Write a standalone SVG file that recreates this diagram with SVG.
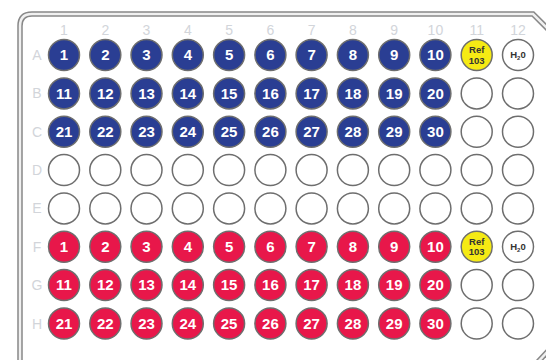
<svg xmlns="http://www.w3.org/2000/svg" width="546" height="360" viewBox="0 0 546 360">
<style>
.w{stroke:#6e6e6e;stroke-width:1.5}
.b{fill:#2a3e93}
.r{fill:#e8174a}
.e{fill:#ffffff}
.y{fill:#f5ea14}
.n{font-family:"Liberation Sans",Arial,sans-serif;font-size:15px;font-weight:bold;fill:#ffffff;text-anchor:middle}
.s{font-family:"Liberation Sans",Arial,sans-serif;font-size:9.5px;font-weight:bold;fill:#333333;text-anchor:middle}
.lab{font-family:"Liberation Sans",Arial,sans-serif;font-size:14px;fill:#d2d5da;text-anchor:middle}
.o1{fill:none;stroke:#888888;stroke-width:5.5}
.o2{fill:none;stroke:#f0f0f0;stroke-width:2.5}
</style>
<rect width="546" height="360" fill="#ffffff"/>
<g id="plate">
<path class="o1" d="M20,364 V26 Q20,14 32,14 H533 L549,30"/>
<path class="o2" d="M20,364 V26 Q20,14 32,14 H533 L549,30"/>
<path class="o1" d="M536,364 L550,349"/>
<path class="o2" d="M536,364 L550,349"/>
</g>
<g id="column-labels">
<text class="lab" x="64" y="35">1</text><text class="lab" x="105.3" y="35">2</text><text class="lab" x="146.5" y="35">3</text><text class="lab" x="187.8" y="35">4</text><text class="lab" x="229.1" y="35">5</text><text class="lab" x="270.4" y="35">6</text><text class="lab" x="311.6" y="35">7</text><text class="lab" x="352.9" y="35">8</text><text class="lab" x="394.2" y="35">9</text><text class="lab" x="435.4" y="35">10</text><text class="lab" x="476.7" y="35">11</text><text class="lab" x="518" y="35">12</text>
</g>
<g id="row-labels">
<text class="lab" x="37" y="60">A</text><text class="lab" x="37" y="98.4">B</text><text class="lab" x="37" y="136.7">C</text><text class="lab" x="37" y="175.1">D</text><text class="lab" x="37" y="213.4">E</text><text class="lab" x="37" y="251.8">F</text><text class="lab" x="37" y="290.1">G</text><text class="lab" x="37" y="328.5">H</text>
</g>
<!-- Row A -->
<g id="A1"><circle class="w b" cx="64" cy="55" r="15.5"/><text class="n" x="64" y="60.3">1</text></g>
<g id="A2"><circle class="w b" cx="105.3" cy="55" r="15.5"/><text class="n" x="105.3" y="60.3">2</text></g>
<g id="A3"><circle class="w b" cx="146.5" cy="55" r="15.5"/><text class="n" x="146.5" y="60.3">3</text></g>
<g id="A4"><circle class="w b" cx="187.8" cy="55" r="15.5"/><text class="n" x="187.8" y="60.3">4</text></g>
<g id="A5"><circle class="w b" cx="229.1" cy="55" r="15.5"/><text class="n" x="229.1" y="60.3">5</text></g>
<g id="A6"><circle class="w b" cx="270.4" cy="55" r="15.5"/><text class="n" x="270.4" y="60.3">6</text></g>
<g id="A7"><circle class="w b" cx="311.6" cy="55" r="15.5"/><text class="n" x="311.6" y="60.3">7</text></g>
<g id="A8"><circle class="w b" cx="352.9" cy="55" r="15.5"/><text class="n" x="352.9" y="60.3">8</text></g>
<g id="A9"><circle class="w b" cx="394.2" cy="55" r="15.5"/><text class="n" x="394.2" y="60.3">9</text></g>
<g id="A10"><circle class="w b" cx="435.4" cy="55" r="15.5"/><text class="n" x="435.4" y="60.3">10</text></g>
<g id="A11"><circle class="w y" cx="476.7" cy="55" r="15.5"/><text class="s" x="476.7" y="53">Ref</text><text class="s" x="476.7" y="63.5">103</text></g>
<g id="A12"><circle class="w e" cx="518" cy="55" r="15.5"/><text class="s" x="518" y="58"><tspan>H</tspan><tspan font-size="6" dy="2">2</tspan><tspan dy="-2">0</tspan></text></g>
<!-- Row B -->
<g id="B1"><circle class="w b" cx="64" cy="93.4" r="15.5"/><text class="n" x="64" y="98.7">11</text></g>
<g id="B2"><circle class="w b" cx="105.3" cy="93.4" r="15.5"/><text class="n" x="105.3" y="98.7">12</text></g>
<g id="B3"><circle class="w b" cx="146.5" cy="93.4" r="15.5"/><text class="n" x="146.5" y="98.7">13</text></g>
<g id="B4"><circle class="w b" cx="187.8" cy="93.4" r="15.5"/><text class="n" x="187.8" y="98.7">14</text></g>
<g id="B5"><circle class="w b" cx="229.1" cy="93.4" r="15.5"/><text class="n" x="229.1" y="98.7">15</text></g>
<g id="B6"><circle class="w b" cx="270.4" cy="93.4" r="15.5"/><text class="n" x="270.4" y="98.7">16</text></g>
<g id="B7"><circle class="w b" cx="311.6" cy="93.4" r="15.5"/><text class="n" x="311.6" y="98.7">17</text></g>
<g id="B8"><circle class="w b" cx="352.9" cy="93.4" r="15.5"/><text class="n" x="352.9" y="98.7">18</text></g>
<g id="B9"><circle class="w b" cx="394.2" cy="93.4" r="15.5"/><text class="n" x="394.2" y="98.7">19</text></g>
<g id="B10"><circle class="w b" cx="435.4" cy="93.4" r="15.5"/><text class="n" x="435.4" y="98.7">20</text></g>
<g id="B11"><circle class="w e" cx="476.7" cy="93.4" r="15.5"/></g>
<g id="B12"><circle class="w e" cx="518" cy="93.4" r="15.5"/></g>
<!-- Row C -->
<g id="C1"><circle class="w b" cx="64" cy="131.7" r="15.5"/><text class="n" x="64" y="137">21</text></g>
<g id="C2"><circle class="w b" cx="105.3" cy="131.7" r="15.5"/><text class="n" x="105.3" y="137">22</text></g>
<g id="C3"><circle class="w b" cx="146.5" cy="131.7" r="15.5"/><text class="n" x="146.5" y="137">23</text></g>
<g id="C4"><circle class="w b" cx="187.8" cy="131.7" r="15.5"/><text class="n" x="187.8" y="137">24</text></g>
<g id="C5"><circle class="w b" cx="229.1" cy="131.7" r="15.5"/><text class="n" x="229.1" y="137">25</text></g>
<g id="C6"><circle class="w b" cx="270.4" cy="131.7" r="15.5"/><text class="n" x="270.4" y="137">26</text></g>
<g id="C7"><circle class="w b" cx="311.6" cy="131.7" r="15.5"/><text class="n" x="311.6" y="137">27</text></g>
<g id="C8"><circle class="w b" cx="352.9" cy="131.7" r="15.5"/><text class="n" x="352.9" y="137">28</text></g>
<g id="C9"><circle class="w b" cx="394.2" cy="131.7" r="15.5"/><text class="n" x="394.2" y="137">29</text></g>
<g id="C10"><circle class="w b" cx="435.4" cy="131.7" r="15.5"/><text class="n" x="435.4" y="137">30</text></g>
<g id="C11"><circle class="w e" cx="476.7" cy="131.7" r="15.5"/></g>
<g id="C12"><circle class="w e" cx="518" cy="131.7" r="15.5"/></g>
<!-- Row D -->
<g id="D1"><circle class="w e" cx="64" cy="170.1" r="15.5"/></g>
<g id="D2"><circle class="w e" cx="105.3" cy="170.1" r="15.5"/></g>
<g id="D3"><circle class="w e" cx="146.5" cy="170.1" r="15.5"/></g>
<g id="D4"><circle class="w e" cx="187.8" cy="170.1" r="15.5"/></g>
<g id="D5"><circle class="w e" cx="229.1" cy="170.1" r="15.5"/></g>
<g id="D6"><circle class="w e" cx="270.4" cy="170.1" r="15.5"/></g>
<g id="D7"><circle class="w e" cx="311.6" cy="170.1" r="15.5"/></g>
<g id="D8"><circle class="w e" cx="352.9" cy="170.1" r="15.5"/></g>
<g id="D9"><circle class="w e" cx="394.2" cy="170.1" r="15.5"/></g>
<g id="D10"><circle class="w e" cx="435.4" cy="170.1" r="15.5"/></g>
<g id="D11"><circle class="w e" cx="476.7" cy="170.1" r="15.5"/></g>
<g id="D12"><circle class="w e" cx="518" cy="170.1" r="15.5"/></g>
<!-- Row E -->
<g id="E1"><circle class="w e" cx="64" cy="208.4" r="15.5"/></g>
<g id="E2"><circle class="w e" cx="105.3" cy="208.4" r="15.5"/></g>
<g id="E3"><circle class="w e" cx="146.5" cy="208.4" r="15.5"/></g>
<g id="E4"><circle class="w e" cx="187.8" cy="208.4" r="15.5"/></g>
<g id="E5"><circle class="w e" cx="229.1" cy="208.4" r="15.5"/></g>
<g id="E6"><circle class="w e" cx="270.4" cy="208.4" r="15.5"/></g>
<g id="E7"><circle class="w e" cx="311.6" cy="208.4" r="15.5"/></g>
<g id="E8"><circle class="w e" cx="352.9" cy="208.4" r="15.5"/></g>
<g id="E9"><circle class="w e" cx="394.2" cy="208.4" r="15.5"/></g>
<g id="E10"><circle class="w e" cx="435.4" cy="208.4" r="15.5"/></g>
<g id="E11"><circle class="w e" cx="476.7" cy="208.4" r="15.5"/></g>
<g id="E12"><circle class="w e" cx="518" cy="208.4" r="15.5"/></g>
<!-- Row F -->
<g id="F1"><circle class="w r" cx="64" cy="246.8" r="15.5"/><text class="n" x="64" y="252.1">1</text></g>
<g id="F2"><circle class="w r" cx="105.3" cy="246.8" r="15.5"/><text class="n" x="105.3" y="252.1">2</text></g>
<g id="F3"><circle class="w r" cx="146.5" cy="246.8" r="15.5"/><text class="n" x="146.5" y="252.1">3</text></g>
<g id="F4"><circle class="w r" cx="187.8" cy="246.8" r="15.5"/><text class="n" x="187.8" y="252.1">4</text></g>
<g id="F5"><circle class="w r" cx="229.1" cy="246.8" r="15.5"/><text class="n" x="229.1" y="252.1">5</text></g>
<g id="F6"><circle class="w r" cx="270.4" cy="246.8" r="15.5"/><text class="n" x="270.4" y="252.1">6</text></g>
<g id="F7"><circle class="w r" cx="311.6" cy="246.8" r="15.5"/><text class="n" x="311.6" y="252.1">7</text></g>
<g id="F8"><circle class="w r" cx="352.9" cy="246.8" r="15.5"/><text class="n" x="352.9" y="252.1">8</text></g>
<g id="F9"><circle class="w r" cx="394.2" cy="246.8" r="15.5"/><text class="n" x="394.2" y="252.1">9</text></g>
<g id="F10"><circle class="w r" cx="435.4" cy="246.8" r="15.5"/><text class="n" x="435.4" y="252.1">10</text></g>
<g id="F11"><circle class="w y" cx="476.7" cy="246.8" r="15.5"/><text class="s" x="476.7" y="244.8">Ref</text><text class="s" x="476.7" y="255.3">103</text></g>
<g id="F12"><circle class="w e" cx="518" cy="246.8" r="15.5"/><text class="s" x="518" y="249.8"><tspan>H</tspan><tspan font-size="6" dy="2">2</tspan><tspan dy="-2">0</tspan></text></g>
<!-- Row G -->
<g id="G1"><circle class="w r" cx="64" cy="285.1" r="15.5"/><text class="n" x="64" y="290.4">11</text></g>
<g id="G2"><circle class="w r" cx="105.3" cy="285.1" r="15.5"/><text class="n" x="105.3" y="290.4">12</text></g>
<g id="G3"><circle class="w r" cx="146.5" cy="285.1" r="15.5"/><text class="n" x="146.5" y="290.4">13</text></g>
<g id="G4"><circle class="w r" cx="187.8" cy="285.1" r="15.5"/><text class="n" x="187.8" y="290.4">14</text></g>
<g id="G5"><circle class="w r" cx="229.1" cy="285.1" r="15.5"/><text class="n" x="229.1" y="290.4">15</text></g>
<g id="G6"><circle class="w r" cx="270.4" cy="285.1" r="15.5"/><text class="n" x="270.4" y="290.4">16</text></g>
<g id="G7"><circle class="w r" cx="311.6" cy="285.1" r="15.5"/><text class="n" x="311.6" y="290.4">17</text></g>
<g id="G8"><circle class="w r" cx="352.9" cy="285.1" r="15.5"/><text class="n" x="352.9" y="290.4">18</text></g>
<g id="G9"><circle class="w r" cx="394.2" cy="285.1" r="15.5"/><text class="n" x="394.2" y="290.4">19</text></g>
<g id="G10"><circle class="w r" cx="435.4" cy="285.1" r="15.5"/><text class="n" x="435.4" y="290.4">20</text></g>
<g id="G11"><circle class="w e" cx="476.7" cy="285.1" r="15.5"/></g>
<g id="G12"><circle class="w e" cx="518" cy="285.1" r="15.5"/></g>
<!-- Row H -->
<g id="H1"><circle class="w r" cx="64" cy="323.5" r="15.5"/><text class="n" x="64" y="328.8">21</text></g>
<g id="H2"><circle class="w r" cx="105.3" cy="323.5" r="15.5"/><text class="n" x="105.3" y="328.8">22</text></g>
<g id="H3"><circle class="w r" cx="146.5" cy="323.5" r="15.5"/><text class="n" x="146.5" y="328.8">23</text></g>
<g id="H4"><circle class="w r" cx="187.8" cy="323.5" r="15.5"/><text class="n" x="187.8" y="328.8">24</text></g>
<g id="H5"><circle class="w r" cx="229.1" cy="323.5" r="15.5"/><text class="n" x="229.1" y="328.8">25</text></g>
<g id="H6"><circle class="w r" cx="270.4" cy="323.5" r="15.5"/><text class="n" x="270.4" y="328.8">26</text></g>
<g id="H7"><circle class="w r" cx="311.6" cy="323.5" r="15.5"/><text class="n" x="311.6" y="328.8">27</text></g>
<g id="H8"><circle class="w r" cx="352.9" cy="323.5" r="15.5"/><text class="n" x="352.9" y="328.8">28</text></g>
<g id="H9"><circle class="w r" cx="394.2" cy="323.5" r="15.5"/><text class="n" x="394.2" y="328.8">29</text></g>
<g id="H10"><circle class="w r" cx="435.4" cy="323.5" r="15.5"/><text class="n" x="435.4" y="328.8">30</text></g>
<g id="H11"><circle class="w e" cx="476.7" cy="323.5" r="15.5"/></g>
<g id="H12"><circle class="w e" cx="518" cy="323.5" r="15.5"/></g>
<g id="connectors"/>
</svg>
